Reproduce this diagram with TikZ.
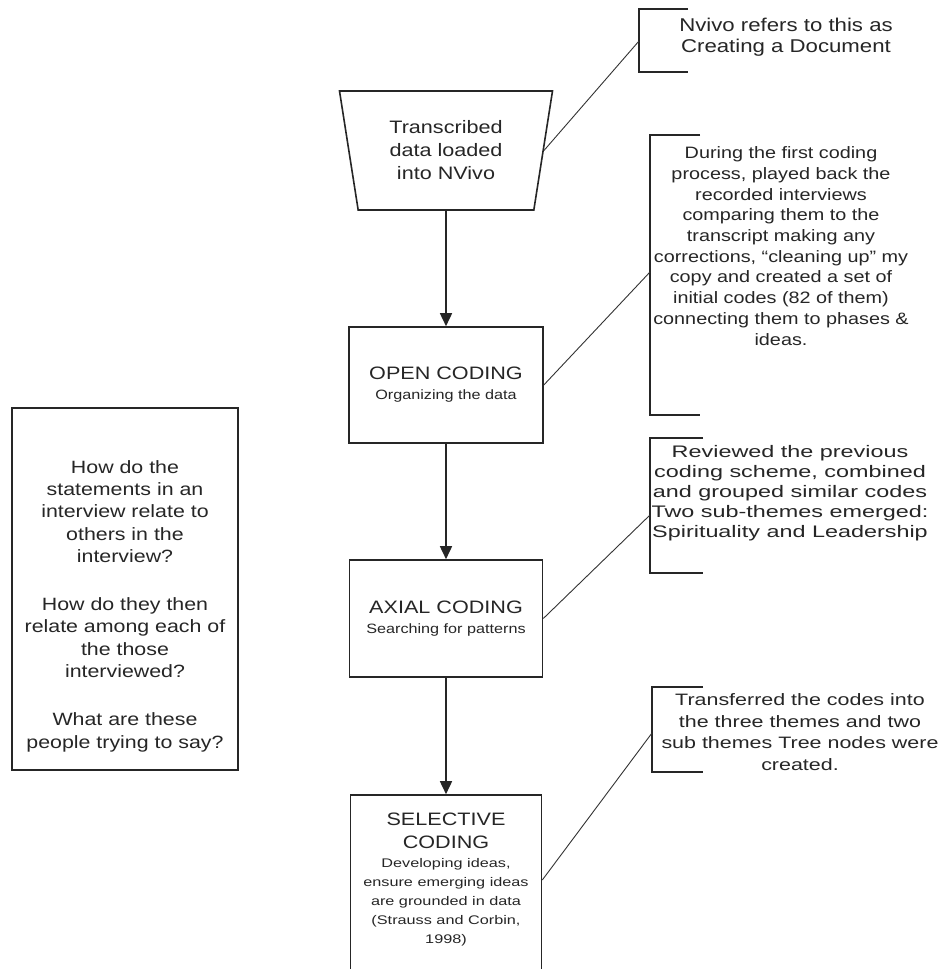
\documentclass[tikz,border=0pt]{standalone}
\usepackage{fontspec}
\setmainfont{Liberation Sans}[FakeStretch=1.2]
\newfontfamily\wideA{Liberation Sans}[FakeStretch=1.4]
\newfontfamily\wideB{Liberation Sans}[FakeStretch=1.3]
\usetikzlibrary{shapes.geometric,arrows.meta}
\newcommand\fs[2]{\fontsize{#1}{#2}\selectfont}
\begin{document}
\begin{tikzpicture}[x=1pt,y=-1pt,
  box/.style={draw=black!85, line width=1.6pt, inner sep=0pt},
  flow/.style={draw=black!85, line width=1.6pt, -{Triangle[length=13pt,width=12pt]}},
  link/.style={draw=black!80, line width=0.9pt},
  bracketline/.style={draw=black!85, line width=1.4pt},
  txt/.style={align=center, inner sep=0pt, text=black!85}]
\clip (0,0) rectangle (948,969);
\fill[white] (0,0) rectangle (948,969);

% flow nodes
\node[trapezium, draw=black!85, line width=1.6pt, shape border rotate=180,
      trapezium angle=72.5, trapezium stretches body,
      minimum width=213pt, minimum height=119pt, inner sep=0pt,
      txt, font=\fs{18}{23}] (trap) at (446,150.5) {Transcribed\\data loaded\\into NVivo};

\node[box, minimum width=194pt, minimum height=116pt, txt, font=\fs{18}{20}] (open) at (446,385)
  {OPEN CODING\\\fs{13.5}{19}Organizing the data};

\node[box, minimum width=193pt, minimum height=117pt, txt, font=\fs{18}{20}] (axial) at (446,618.5)
  {AXIAL CODING\\\fs{13.5}{19}Searching for patterns};

\node[box, minimum width=191pt, minimum height=205pt] (sel) at (446,897.5) {};
\node[txt, font=\wideB\fs{12.5}{19}] (seltext) at (446,879)
  {{\rmfamily\fs{18}{23}SELECTIVE}\\[4pt]{\rmfamily\fs{18}{23}CODING}\\Developing ideas,\\ensure emerging ideas\\are grounded in data\\(Strauss and Corbin,\\1998)};

\draw[flow] (trap.south) -- (open.north);
\draw[flow] (open.south) -- (axial.north);
\draw[flow] (axial.south) -- (sel.north);

% left question box
\node[box, minimum width=226pt, minimum height=362pt] (qbox) at (125,589) {};
\node[txt, font=\fs{17.8}{22.3}] (qtext) at (125,606)
  {How do the\\statements in an\\interview relate to\\others in the\\interview?\\[26pt]
   How do they then\\relate among each of\\the those\\interviewed?\\[26pt]
   What are these\\people trying to say?};

% callouts
\draw[bracketline] (688,9) -- (639,9) -- (639,72) -- (688,72);
\coordinate (b1) at (639,41);
\node[txt, font=\fs{18.5}{21}] (c1) at (786,37.5) {Nvivo refers to this as\\Creating a Document};

\draw[bracketline] (700,135) -- (650,135) -- (650,415) -- (700,415);
\coordinate (b2) at (650,272);
\node[txt, font=\fs{16.5}{20.7}] (c2) at (781,246)
  {During the first coding\\process, played back the\\recorded interviews\\comparing them to the\\transcript making any\\corrections, “cleaning up” my\\copy and created a set of\\initial codes (82 of them)\\connecting them to phases \&\\ideas.};

\draw[bracketline] (703,438) -- (650,438) -- (650,573) -- (703,573);
\coordinate (b3) at (650,515);
\node[txt, font=\wideA\fs{16.7}{20}] (c3) at (790,493)
  {Reviewed the previous\\coding scheme, combined\\and grouped similar codes\\Two sub-themes emerged:\\Spirituality and Leadership};

\draw[bracketline] (703,687) -- (652,687) -- (652,772) -- (703,772);
\coordinate (b4) at (652,733);
\node[txt, font=\wideB\fs{16.5}{21.5}] (c4) at (800,732)
  {Transferred the codes into\\the three themes and two\\sub themes Tree nodes were\\created.};

% links
\draw[link] (trap.east) -- (b1);
\draw[link] (open.east) -- (b2);
\draw[link] (axial.east) -- (b3);
\draw[link] ([yshift=17.5pt]sel.east) -- (b4);
\end{tikzpicture}
\end{document}
